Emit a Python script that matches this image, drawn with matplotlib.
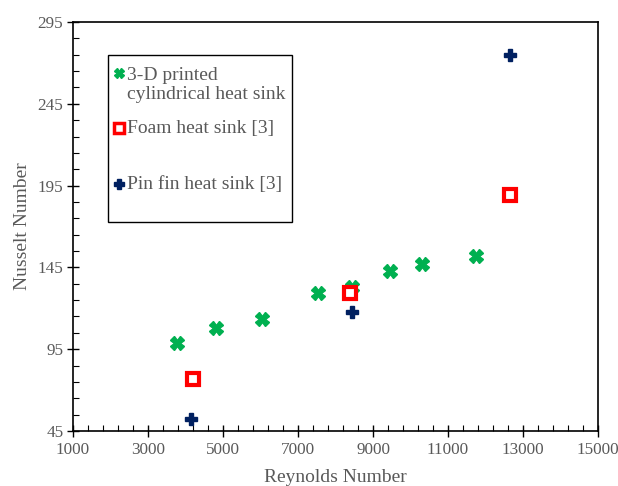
import matplotlib
matplotlib.use("Agg")
import matplotlib.pyplot as plt
from matplotlib.patches import Rectangle
import numpy as np

# Data
re_printed = [3770, 4810, 6040, 7530, 8440, 9450, 10300, 11750]
nu_printed = [99, 108, 113.5, 129.5, 133, 142.5, 147, 152]
re_foam = [4200, 8390, 12650]
nu_foam = [77, 129.5, 189]
re_pin = [4150, 8440, 12650]
nu_pin = [52.5, 118, 275]

labels = ["3-D printed\ncylindrical heat sink", "Foam heat sink [3]", "Pin fin heat sink [3]"]
x_ticks = [1000, 3000, 5000, 7000, 9000, 11000, 13000, 15000]
y_ticks = [45, 95, 145, 195, 245, 295]

plt.rcParams['font.family'] = ['Liberation Serif', 'DejaVu Serif']
gray = '#595959'
green, red, navy = '#00B050', '#FF0000', '#002060'

fig = plt.figure(figsize=(6.18, 4.86), dpi=100)
ax = fig.add_axes([73/618, 1-431/486, (598-73)/618, (431-22)/486])

ax.plot(re_printed, nu_printed, linestyle='none', marker='X', markersize=10,
        color=green, markeredgecolor=green)
ax.plot(re_foam, nu_foam, linestyle='none', marker='s', markersize=9,
        markerfacecolor='white', markeredgecolor=red, markeredgewidth=3)
ax.plot(re_pin, nu_pin, linestyle='none', marker='P', markersize=9, color=navy)

ax.set_xlim(x_ticks[0], x_ticks[-1])
ax.set_ylim(y_ticks[0], y_ticks[-1])
ax.set_xticks(x_ticks)
ax.set_xticklabels([str(v) for v in x_ticks])
ax.set_yticks(y_ticks)
ax.set_yticklabels([str(v) for v in y_ticks])
ax.set_xticks(np.arange(x_ticks[0], x_ticks[-1] + 1, 400), minor=True)
ax.set_yticks(np.arange(y_ticks[0], y_ticks[-1] + 1, 10), minor=True)
ax.tick_params(which='major', direction='inout', length=8, width=1, labelsize=12.3, labelcolor=gray)
ax.tick_params(which='minor', direction='in', length=4, width=0.8)
ax.tick_params(axis='x', pad=4)
ax.tick_params(axis='y', pad=3)
for s in ax.spines.values():
    s.set_linewidth(1.2)

ax.set_xlabel('Reynolds Number', fontsize=14, color=gray, labelpad=8)
ax.set_ylabel('Nusselt Number', fontsize=14, color=gray, labelpad=5)

# Legend (manual, to match layout)
def px_x(p):
    return (p - 73) / 525
def px_y(p):
    return (431 - p) / 409

ax.add_patch(Rectangle((px_x(108), px_y(222)), px_x(292) - px_x(108), px_y(55) - px_y(222),
                       transform=ax.transAxes, fill=False, edgecolor='black', linewidth=1.0,
                       clip_on=False))
mx = px_x(119)
tx = px_x(127)
ax.plot([mx], [px_y(73)], transform=ax.transAxes, marker='X', markersize=7, color=green,
        linestyle='none', clip_on=False)
ax.plot([mx], [px_y(128)], transform=ax.transAxes, marker='s', markersize=6.5,
        markerfacecolor='white', markeredgecolor=red, markeredgewidth=2.5, linestyle='none', clip_on=False)
ax.plot([mx], [px_y(184)], transform=ax.transAxes, marker='P', markersize=7, color=navy,
        linestyle='none', clip_on=False)
ax.text(tx, px_y(85), labels[0], transform=ax.transAxes, fontsize=14, color=gray,
        va='center', ha='left', linespacing=1.1)
ax.text(tx, px_y(128), labels[1], transform=ax.transAxes, fontsize=14, color=gray,
        va='center', ha='left')
ax.text(tx, px_y(184), labels[2], transform=ax.transAxes, fontsize=14, color=gray,
        va='center', ha='left')

fig.savefig('out.png', dpi=100)
